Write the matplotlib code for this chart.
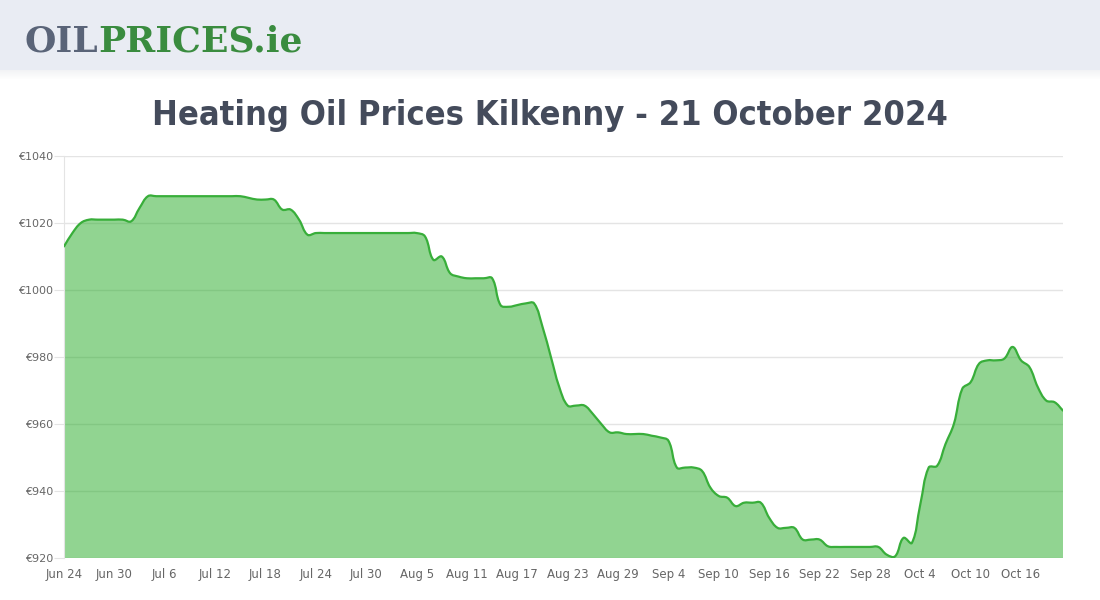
import numpy as np
import matplotlib
matplotlib.use("Agg")
import matplotlib.pyplot as plt
from matplotlib import font_manager
from matplotlib.path import Path
from matplotlib.patches import PathPatch, Rectangle

# daily prices (EUR), 24 Jun 2024 .. 21 Oct 2024
prices = [
    1013, 1017, 1020, 1021, 1021, 1021, 1021, 1021, 1020.5, 1024.5, 1028,
    1028, 1028, 1028, 1028, 1028, 1028, 1028, 1028, 1028, 1028, 1028,
    1027.5, 1027, 1027, 1027, 1024, 1024, 1021, 1016.5, 1017,
    1017, 1017, 1017, 1017, 1017, 1017, 1017, 1017, 1017, 1017, 1017, 1017,
    1016, 1009, 1010, 1005, 1004,
    1003.5, 1003.5, 1003.5, 1003.5,
    995.5, 995, 995.5, 996, 996, 989, 980, 971, 965.5, 965.5, 965.5, 963,
    960, 957.5, 957.5, 957, 957, 957, 956.5, 956, 955, 947, 947, 947, 946,
    941, 938.5, 938, 935.5, 936.5, 936.5, 936.5, 932, 929, 929, 929,
    925.5, 925.5, 925.5, 923.5, 923.3, 923.3, 923.3, 923.3, 923.3, 923.3,
    921, 920.5, 926, 924.5, 936, 947, 947.5, 954, 960, 970.5, 972.5,
    978, 979, 979, 979.5, 983, 979, 977, 971, 967, 966.5, 964,
]
x_labels = ["Jun 24", "Jun 30", "Jul 6", "Jul 12", "Jul 18", "Jul 24", "Jul 30",
            "Aug 5", "Aug 11", "Aug 17", "Aug 23", "Aug 29", "Sep 4", "Sep 10",
            "Sep 16", "Sep 22", "Sep 28", "Oct 4", "Oct 10", "Oct 16"]
y_ticks = [920, 940, 960, 980, 1000, 1020, 1040]

title = "Heating Oil Prices Kilkenny - 21 October 2024"

LINE = "#38ae3a"
FILL = (0.14, 0.67, 0.14, 0.5)
GRID = "#e4e4e4"
TXT = "#666666"


def spline_path(xs, ys, sx, sy, tension=0.4):
    # chart.js style spline, distances measured in pixel-ish units
    px = np.asarray(xs, float) * sx
    py = np.asarray(ys, float) * sy
    n = len(px)
    cp_prev = np.zeros((n, 2))
    cp_next = np.zeros((n, 2))
    for i in range(n):
        a = max(i - 1, 0)
        c = min(i + 1, n - 1)
        d01 = np.hypot(px[i] - px[a], py[i] - py[a])
        d12 = np.hypot(px[c] - px[i], py[c] - py[i])
        tot = d01 + d12
        s01 = d01 / tot if tot else 0
        s12 = d12 / tot if tot else 0
        dx, dy = px[c] - px[a], py[c] - py[a]
        cp_prev[i] = (px[i] - tension * s01 * dx, py[i] - tension * s01 * dy)
        cp_next[i] = (px[i] + tension * s12 * dx, py[i] + tension * s12 * dy)
    verts = [(px[0], py[0])]
    codes = [Path.MOVETO]
    for i in range(n - 1):
        verts += [tuple(cp_next[i]), tuple(cp_prev[i + 1]), (px[i + 1], py[i + 1])]
        codes += [Path.CURVE4] * 3
    verts = np.array(verts)
    verts[:, 0] /= sx
    verts[:, 1] /= sy
    return verts, codes


def pick_narrow_font():
    # look for a condensed / narrow face, the site uses Oswald
    for f in font_manager.fontManager.ttflist:
        nm = (f.name + " " + f.fname).lower()
        if ("condensed" in nm or "narrow" in nm or f.stretch in ("condensed", "semi-condensed")) \
                and f.weight in ("bold", 700, "semibold", 600, "medium", 500):
            return font_manager.FontProperties(fname=f.fname)
    for f in font_manager.fontManager.ttflist:
        nm = (f.name + " " + f.fname).lower()
        if "condensed" in nm or "narrow" in nm:
            return font_manager.FontProperties(fname=f.fname)
    return font_manager.FontProperties(family="DejaVu Sans", weight="bold")


def fit_width(txt, width_px, renderer):
    bb = txt.get_window_extent(renderer)
    txt.set_fontsize(txt.get_fontsize() * width_px / bb.width)


fig = plt.figure(figsize=(11, 6), dpi=100)
fig.patch.set_facecolor("white")
renderer = fig.canvas.get_renderer()

# header band + soft shadow
for k in range(10):
    fig.patches.append(Rectangle((0, 1 - (70 + k) / 600), 1, 1 / 600,
                                 transform=fig.transFigure, color="#d8dbe2",
                                 alpha=0.35 * (1 - k / 10), lw=0, zorder=0))
fig.patches.append(Rectangle((0, 1 - 70 / 600), 1, 70 / 600, transform=fig.transFigure,
                             color="#e9ecf3", lw=0, zorder=1))

logo = fig.text(25 / 1100, 1 - 51 / 600, "OILPRICES.ie", fontsize=27, fontweight="bold",
                family="DejaVu Serif", color="#3a8c3f", zorder=3)
fit_width(logo, 278, renderer)
logo_oil = fig.text(25 / 1100, 1 - 51 / 600, "OIL", fontsize=logo.get_fontsize(),
                    fontweight="bold", family="DejaVu Serif", color="#5a6478", zorder=4)
oil_w = logo_oil.get_window_extent(renderer).width
logo.set_text("PRICES.ie")
logo.set_x((25 + oil_w) / 1100)

head = fig.text(0.5, 1 - 116 / 600, title, ha="center", va="center", fontsize=35,
                fontproperties=pick_narrow_font(), color="#444b5b")
head.set_fontsize(35)
fit_width(head, 796, renderer)

ax = fig.add_axes([64 / 1100, 42 / 600, 999 / 1100, 402 / 600])
days = np.arange(len(prices))
verts, codes = spline_path(days, prices, 8.4, 3.35)

fill_verts = np.vstack([verts, [[days[-1], 920], [days[0], 920], verts[0]]])
fill_codes = codes + [Path.LINETO, Path.LINETO, Path.CLOSEPOLY]
ax.add_patch(PathPatch(Path(fill_verts, fill_codes), facecolor=FILL, lw=0, zorder=2))
ax.add_patch(PathPatch(Path(verts, codes), facecolor="none", edgecolor=LINE,
                       lw=1.6, zorder=3, capstyle="round", joinstyle="round"))

ax.set_xlim(0, len(prices) - 1)
ax.set_ylim(920, 1040)
ax.set_yticks(y_ticks)
ax.set_yticklabels([f"€{v}" for v in y_ticks])
ax.set_xticks(days[::6])
ax.set_xticklabels(x_labels)
ax.grid(axis="y", color=GRID, lw=1, zorder=1)
ax.set_axisbelow(True)
for s in ["top", "right", "bottom"]:
    ax.spines[s].set_visible(False)
ax.spines["left"].set_color(GRID)
ax.tick_params(axis="y", length=7, color=GRID, labelsize=8, labelcolor=TXT, pad=1)
ax.tick_params(axis="x", length=0, labelsize=8.5, labelcolor=TXT, pad=7)

fig.savefig("out.png", dpi=100)
